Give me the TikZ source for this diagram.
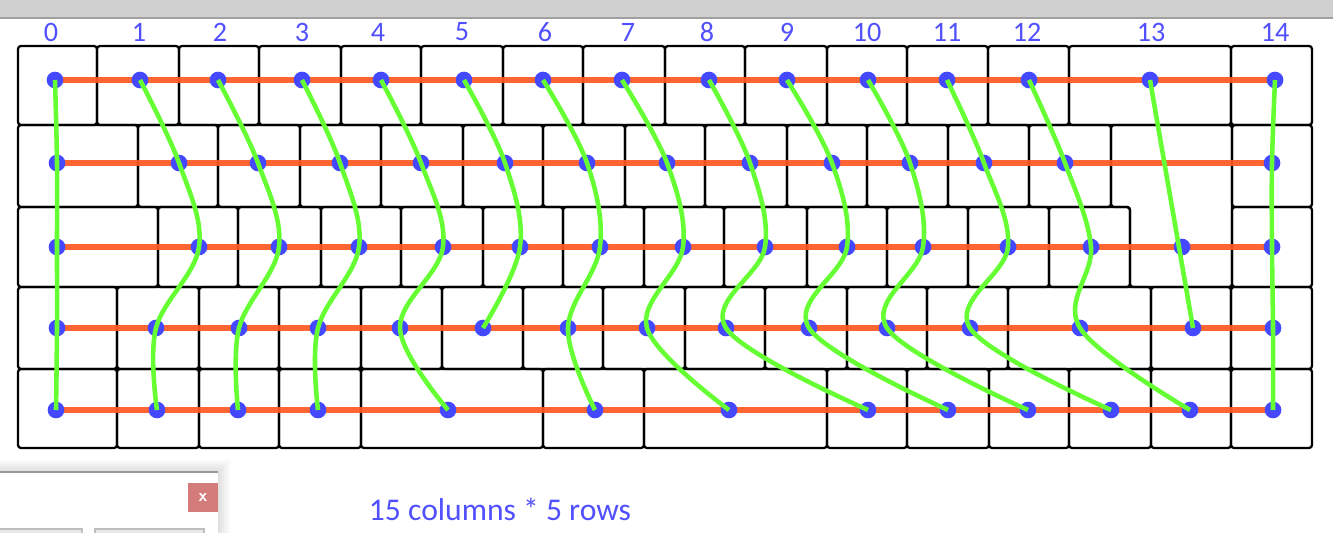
\documentclass[tikz,border=0pt]{standalone}
\usepackage{fontspec}
\setmainfont{Carlito}
\usetikzlibrary{positioning}
\definecolor{wirerow}{RGB}{255,87,34}
\definecolor{wirecol}{RGB}{102,255,51}
\definecolor{dotblue}{RGB}{68,72,255}
\definecolor{labelblue}{RGB}{80,80,255}
\definecolor{barbg}{RGB}{208,208,208}
\definecolor{barline}{RGB}{160,160,160}
\definecolor{closered}{RGB}{212,123,123}
\definecolor{btnfill}{RGB}{232,232,232}
\definecolor{btnline}{RGB}{190,190,190}

\tikzset{
  keycap/.style={draw=black, line width=1.3pt, rounded corners=1.7pt},
  rowwire/.style={draw=wirerow, line width=3.6pt, opacity=0.92},
  colwire/.style={draw=wirecol, line width=2.6pt},
  matrixdot/.style={circle, fill=dotblue, inner sep=0pt, minimum size=9.5pt},
  collabel/.style={text=labelblue, font=\fontsize{16}{18}\selectfont},
}

\begin{document}
\begin{tikzpicture}[x=0.02cm, y=-0.02cm]
  \useasboundingbox[fill=white] (0,0) rectangle (1333,533);
  % title bar
  \fill[barbg] (0,0) rectangle (1333,17);
  \fill[barline] (0,17) rectangle (1333,19);

  % keycaps, row by row
  \foreach \a/\b in {18/97,97/179,179/259,259/341,341/421,421/503,503/583,583/665,665/745,745/827,827/907,907/988,988/1069,1069/1231,1231/1312}
    \draw[keycap] (\a,46) rectangle (\b,125);
  \foreach \a/\b in {18/138,138/218,218/300,300/381,381/463,463/543,543/625,625/705,705/787,787/867,867/948,948/1029,1029/1111,1232/1312}
    \draw[keycap] (\a,125) rectangle (\b,207);
  \foreach \a/\b in {18/158,158/238,238/321,321/401,401/483,483/563,563/644,644/724,724/807,807/887,887/968,968/1049,1049/1130,1232/1312}
    \draw[keycap] (\a,207) rectangle (\b,287);
  \foreach \a/\b in {18/117,117/199,199/279,279/361,361/442,442/523,523/603,603/685,685/765,765/847,847/927,927/1008,1008/1151,1151/1231,1231/1312}
    \draw[keycap] (\a,287) rectangle (\b,369);
  \foreach \a/\b in {18/117,117/199,199/279,279/361,361/543,543/644,644/827,827/907,907/989,989/1069,1069/1151,1151/1231,1231/1312}
    \draw[keycap] (\a,369) rectangle (\b,448);
  % enter key
  \draw[keycap] (1111,125) -- (1232,125) -- (1232,287) -- (1130,287) -- (1130,207) -- (1111,207) -- cycle;

  % matrix points
  \foreach \c/\x/\lx in {0/55/51,1/140/139,2/218/220,3/302/302,4/381/378,5/464/462,6/543/545,7/622/628,8/709/707,9/787/787,10/868/867,11/947/947,12/1029/1027,13/1150/1151,14/1275/1275} {
    \coordinate (r0c\c) at (\x,80);
    \node[collabel] (lab\c) at (\lx,32) {\c};
  }
  \foreach \c/\x in {0/57,1/179,2/258,3/340,4/421,5/505,6/587,7/667,8/750,9/832,10/910,11/984,12/1065,14/1272}
    \coordinate (r1c\c) at (\x,163);
  \foreach \c/\x in {0/57,1/199,2/279,3/359,4/443,5/520,6/600,7/683,8/765,9/847,10/923,11/1008,12/1091,13/1182,14/1272}
    \coordinate (r2c\c) at (\x,247);
  \foreach \c/\x in {0/57,1/156,2/239,3/318,4/400,5/483,6/568,7/647,8/726,9/809,10/887,11/970,12/1080,13/1193,14/1273}
    \coordinate (r3c\c) at (\x,328);
  \foreach \c/\x in {0/56,1/157,2/238,3/318,4/448,6/595,7/729,8/868,9/948,10/1028,11/1111,12/1190,14/1273}
    \coordinate (r4c\c) at (\x,410);

  % rows
  \foreach \r in {0,...,4}
    \draw[rowwire] (r\r c0) -- (r\r c14);

  % dots
  \foreach \c in {0,...,14} \node[matrixdot] at (r0c\c) {};
  \foreach \c in {0,...,12,14} \node[matrixdot] at (r1c\c) {};
  \foreach \c in {0,...,14} \node[matrixdot] at (r2c\c) {};
  \foreach \c in {0,...,14} \node[matrixdot] at (r3c\c) {};
  \foreach \c in {0,...,4,6,7,...,12,14} \node[matrixdot] at (r4c\c) {};

  % columns
  \foreach \c in {0,...,4,6,7,...,12,14}
    \draw[colwire] plot[smooth, tension=0.6] coordinates {(r0c\c) (r1c\c) (r2c\c) (r3c\c) (r4c\c)};
  \draw[colwire] plot[smooth, tension=0.6] coordinates {(r0c5) (r1c5) (r2c5) (r3c5)};
  \draw[colwire] (r0c13) -- (r3c13);

  \node[text=labelblue, font=\fontsize{18}{20}\selectfont] (caption) at (500,509) {15 columns * 5 rows};

  % dialog corner
  \foreach \i in {1,...,6}
    \fill[black, opacity=0.018] (-20,472-2*\i) rectangle (218+2*\i,560);
  \fill[white] (-2,472) rectangle (218,540);
  \draw[gray!80, line width=0.7pt] (-2,472) -- (218,472);
  \draw[gray!25, line width=0.5pt] (218,472) -- (218,540);
  \node[fill=closered, minimum width=0.6cm, minimum height=0.58cm, inner sep=0pt,
        text=white, font=\sffamily\bfseries] (closebtn) at (203,497.5) {x};
  \draw[btnline, fill=btnfill, line width=0.6pt] (-5,529) rectangle (82,545);
  \draw[btnline, fill=btnfill, line width=0.6pt] (95,529) rectangle (204,545);
\end{tikzpicture}
\end{document}
